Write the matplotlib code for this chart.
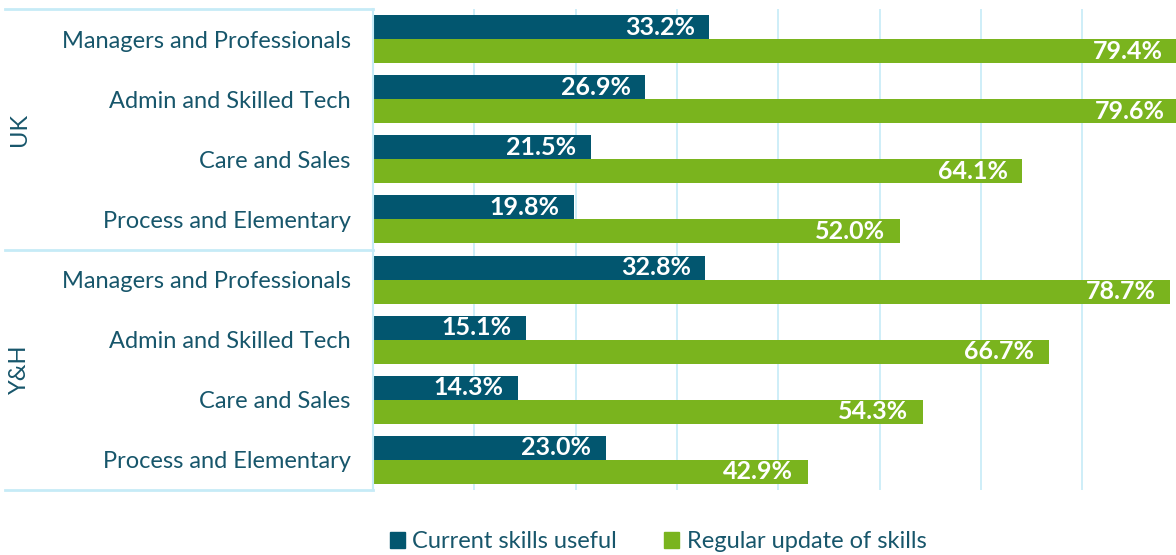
import matplotlib
matplotlib.use("Agg")
import matplotlib.pyplot as plt
import matplotlib.transforms as mtransforms
from matplotlib.patches import Patch

plt.rcParams['font.family'] = ['Lato', 'DejaVu Sans']

groups = ["UK", "Y&H"]
categories = ["Managers and Professionals", "Admin and Skilled Tech",
              "Care and Sales", "Process and Elementary"]
current_skills = [33.2, 26.9, 21.5, 19.8, 32.8, 15.1, 14.3, 23.0]
regular_update = [79.4, 79.6, 64.1, 52.0, 78.7, 66.7, 54.3, 42.9]
series_names = ["Current skills useful", "Regular update of skills"]

dark = "#02566F"
green = "#7AB41E"
text_col = "#17566B"
grid_col = "#C6EBF7"

W, H = 1176, 555
fig = plt.figure(figsize=(W / 100, H / 100), dpi=100)
left, right, top, bottom = 373, 1176, 9, 490
ax = fig.add_axes([left / W, 1 - bottom / H, (right - left) / W, (bottom - top) / H])

labels = categories * len(groups)
n = len(labels)
ys = list(range(n))
bh = 0.4
b1 = ax.barh([y - bh / 2 for y in ys], current_skills, height=bh, color=dark)
b2 = ax.barh([y + bh / 2 for y in ys], regular_update, height=bh, color=green)

for bars, vals in ((b1, current_skills), (b2, regular_update)):
    for rect, v in zip(bars, vals):
        ax.annotate(f"{v:.1f}%", xy=(v, rect.get_y() + rect.get_height() / 2),
                    xytext=(-10.5, 0), textcoords="offset points",
                    ha="right", va="center", color="white",
                    fontsize=18, fontweight="bold", annotation_clip=False)

scale = 10.13
ax.set_xlim(0, (right - left) / scale)
ax.set_ylim(n - 0.5, -0.5)
ax.set_xticks([10, 20, 30, 40, 50, 60, 70])
ax.tick_params(axis="x", length=0, labelbottom=False)
ax.grid(axis="x", color=grid_col, linewidth=1.2)
ax.set_axisbelow(True)
ax.set_yticks(ys)
ax.set_yticklabels(labels, fontsize=17, color=text_col)
ax.tick_params(axis="y", length=0, pad=16)
for s in ("top", "right", "bottom"):
    ax.spines[s].set_visible(False)
ax.spines["left"].set_color(grid_col)
ax.spines["left"].set_linewidth(1.5)

# group separators and labels
trans = mtransforms.blended_transform_factory(ax.transAxes, ax.transData)
x0 = (5 - left) / (right - left)
for yline in (-0.5, 3.5, 7.5):
    ax.plot([x0, 0], [yline, yline], transform=trans, color=grid_col,
            linewidth=2, clip_on=False)
xg = (19 - left) / (right - left)
for gi, g in enumerate(groups):
    yc = gi * len(categories) + (len(categories) - 1) / 2
    ax.text(xg, yc, g, transform=trans, rotation=90, ha="center", va="center",
            fontsize=17, color=text_col)

handles = [Patch(color=dark, label=series_names[0]),
           Patch(color=green, label=series_names[1])]
fig.legend(handles=handles, loc="center", bbox_to_anchor=(658 / W, 1 - 542 / H),
           ncol=2, frameon=False, fontsize=17, labelcolor=text_col,
           handlelength=0.65, handleheight=0.65, handletextpad=0.3,
           columnspacing=2.0)

fig.savefig("out.png", dpi=100)
